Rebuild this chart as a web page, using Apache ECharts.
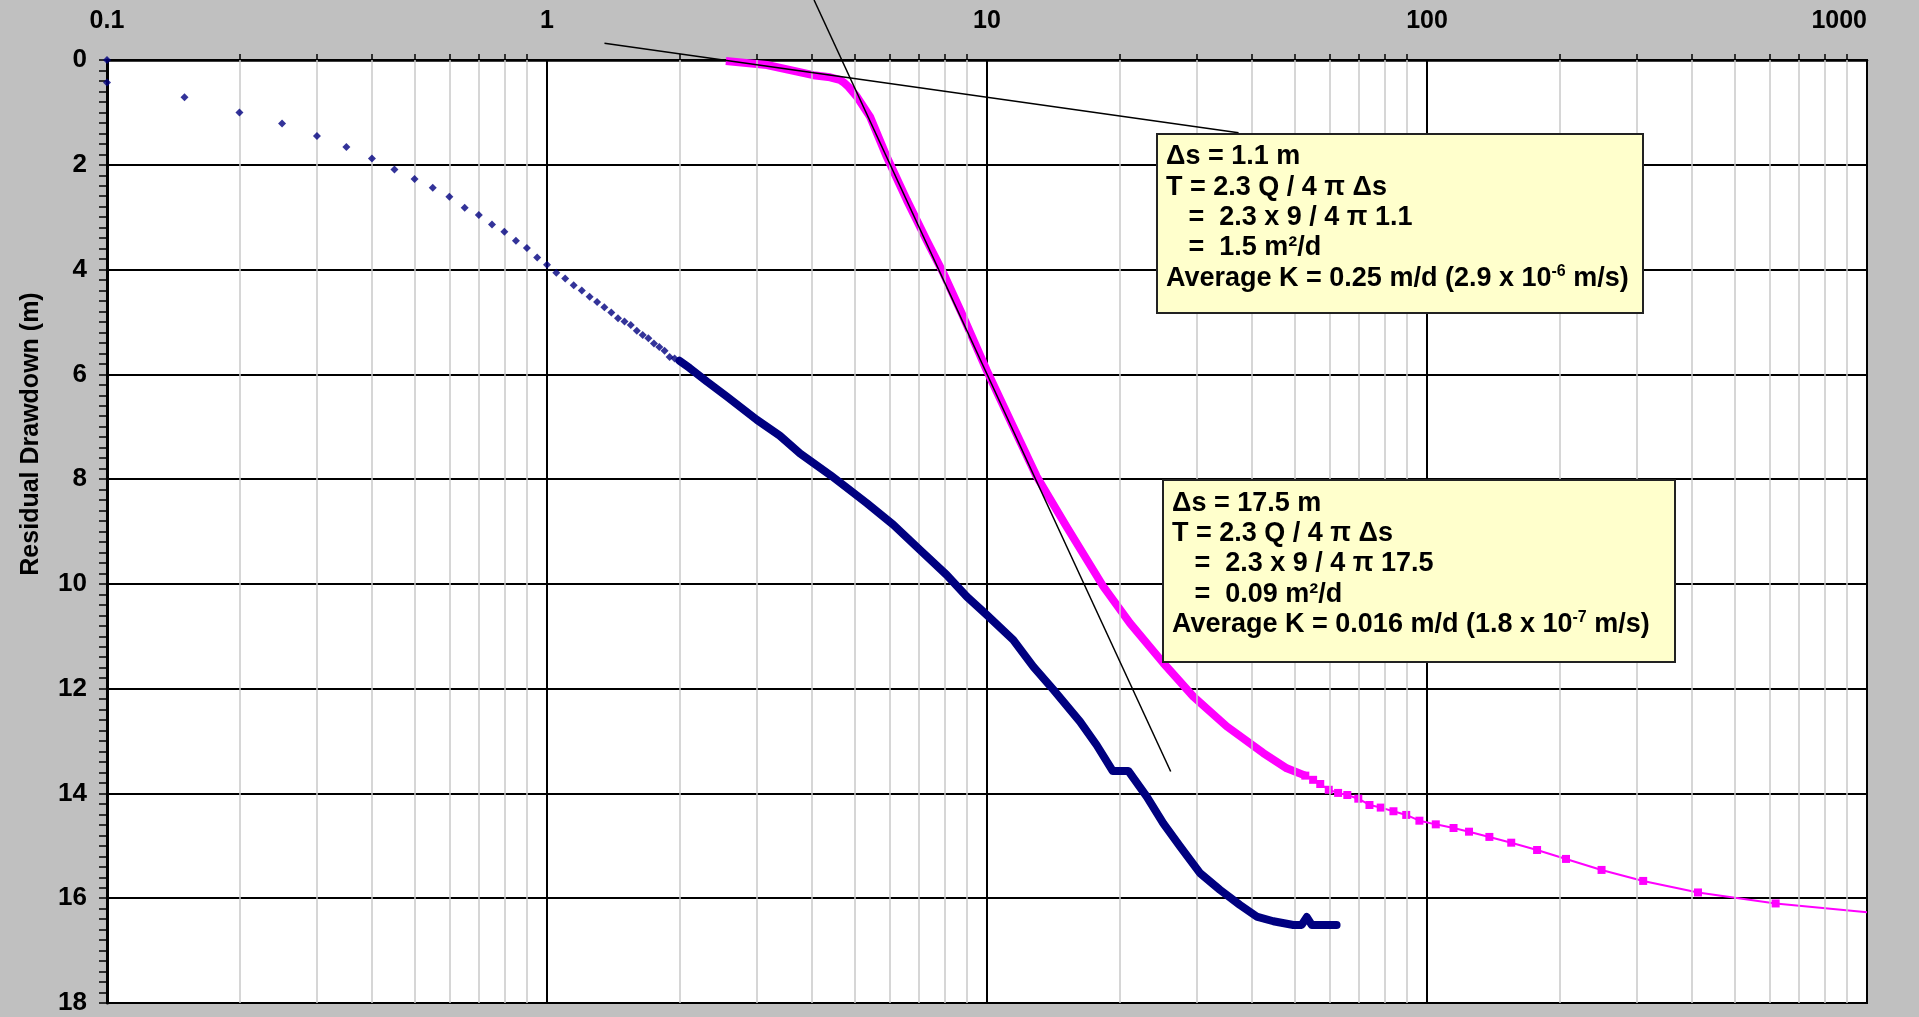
<!DOCTYPE html>
<html><head><meta charset="utf-8">
<script src="https://cdn.jsdelivr.net/npm/echarts@6/dist/echarts.min.js"></script>
<style>html,body{margin:0;padding:0;background:#C0C0C0;}#c{width:1919px;height:1017px;}</style>
</head><body><div id="c"></div>
<script>
// ---- axis values ----
const xTickLabels = ['0.1', '1', '10', '100', '1000'];
const xMinorTicks = [0.2,0.3,0.4,0.5,0.6,0.7,0.8,0.9, 2,3,4,5,6,7,8,9, 20,30,40,50,60,70,80,90, 200,300,400,500,600,700,800,900];
const yTicks = [0, 2, 4, 6, 8, 10, 12, 14, 16, 18];

// ---- blue series: early (sparse, diamonds) ----
const blueSparseT = [0.1,0.1,0.15,0.2,0.25,0.3,0.35,0.4,0.45,0.5,0.55,0.6,0.65,0.7,0.75,0.8,0.85,0.9,0.95,1.0,1.05,1.1,1.15,1.2,1.25,1.3,1.35,1.4,1.45,1.5,1.55,1.6,1.65,1.7,1.75,1.8,1.85,1.9,1.95,2.0];
const blueSparseS = [0,0.43,0.71,1.0,1.21,1.45,1.66,1.88,2.09,2.27,2.44,2.61,2.82,2.96,3.14,3.28,3.45,3.59,3.77,3.91,4.06,4.17,4.30,4.40,4.52,4.62,4.72,4.82,4.93,4.99,5.06,5.17,5.25,5.31,5.41,5.48,5.55,5.67,5.70,5.74];

// ---- blue series: later (dense) ----
const blueDenseT = [2.0,2.11,2.31,2.56,3.0,3.38,3.76,4.40,4.71,5.33,6.12,7.04,8.10,8.99,9.98,11.47,12.74,14.15,16.27,17.76,19.3,20.95,23.07,25.16,27.46,30.49,33.85,37.58,41.0,44.75,49.7,51.9,53.3,54.7,62.3];
const blueDenseS = [5.74,5.88,6.14,6.42,6.87,7.17,7.51,7.92,8.11,8.46,8.87,9.35,9.83,10.24,10.59,11.07,11.58,12.02,12.63,13.08,13.57,13.57,14.06,14.57,15.01,15.52,15.84,16.13,16.35,16.44,16.51,16.51,16.36,16.51,16.51];

// ---- magenta series: dense part ----
const magDenseT = [2.55,3.16,4.03,4.40,4.63,4.73,4.84,5.06,5.42,5.92,6.57,7.29,7.96,8.83,9.98,11.47,12.97,15.17,18.38,21.13,25.16,29.43,35.06,42.46,48.0,52.9];
const magDenseS = [0.02,0.095,0.29,0.33,0.38,0.43,0.51,0.70,1.08,1.85,2.67,3.44,4.07,4.90,5.92,7.0,7.95,8.91,10.05,10.75,11.51,12.15,12.72,13.23,13.52,13.66];

// ---- magenta series: late (sparse squares) ----
const magSparseT = [52.9,55.1,57.2,59.8,62.8,65.9,69.8,74.0,78.5,83.9,89.7,96.1,104.7,114.9,124.6,138.6,155.4,177.9,207,249.3,310,413,620,1000];
const magSparseS = [13.66,13.74,13.82,13.93,13.99,14.03,14.10,14.22,14.27,14.34,14.41,14.52,14.59,14.66,14.73,14.83,14.94,15.08,15.25,15.46,15.67,15.89,16.10,16.27];

// ---- straight-line fits ----
const fit1T = [1.351, 37.3];
const fit1S = [-0.32, 1.39];
const fit2T = [4.045, 26.15];
const fit2S = [-1.145, 13.58];

const zip = (a, b) => a.map((v, i) => [v, b[i]]);
const FONT = '"Liberation Sans", Arial, sans-serif';

const magSparseData = zip(magSparseT, magSparseS).map((p, i, arr) =>
  i === arr.length - 1 ? { value: p, symbol: 'none' } : p);

const chart = echarts.init(document.getElementById('c'), null, { renderer: 'canvas' });

const box1Text = [
  'Δs = 1.1 m',
  'T = 2.3 Q / 4 π Δs',
  '   =  2.3 x 9 / 4 π 1.1',
  '   =  1.5 m²/d',
  'Average K = 0.25 m/d (2.9 x 10{sup|-6} m/s)'
].join('\n');
const box2Text = [
  'Δs = 17.5 m',
  'T = 2.3 Q / 4 π Δs',
  '   =  2.3 x 9 / 4 π 17.5',
  '   =  0.09 m²/d',
  'Average K = 0.016 m/d (1.8 x 10{sup|-7} m/s)'
].join('\n');

const boxTextStyle = (x, y, text) => ({
  type: 'text', left: x, top: y, z: 101,
  style: {
    text: text, fill: '#000', fontSize: 27, fontWeight: 'bold', fontFamily: FONT,
    lineHeight: 30.4,
    rich: { sup: { fontSize: 16, fontWeight: 'bold', fontFamily: FONT, verticalAlign: 'top', lineHeight: 22 } }
  }
});

chart.setOption({
  animation: false,
  backgroundColor: '#C0C0C0',
  grid: { left: 107, right: 52, top: 60, bottom: 14, show: true, backgroundColor: '#FFFFFF', borderColor: '#000', borderWidth: 2 },
  xAxis: [{
    type: 'log', logBase: 10, min: 0.1, max: 1000, position: 'top',
    axisLine: { show: true, lineStyle: { color: '#000', width: 2.5 } },
    axisTick: { show: false },
    axisLabel: {
      show: true, margin: 26, color: '#000', fontSize: 25, fontWeight: 'bold', fontFamily: FONT,
      alignMaxLabel: 'right',
      formatter: v => { const i = Math.round(Math.log10(v)) + 1; return xTickLabels[i] !== undefined ? xTickLabels[i] : ''; }
    },
    splitLine: { show: true, lineStyle: { color: '#000', width: 2 } }
  }, {
    type: 'log', logBase: 10, min: 0.1, max: 1000, position: 'top',
    axisLine: { show: false },
    axisLabel: { show: false },
    axisTick: { show: true, length: 6, customValues: xMinorTicks, lineStyle: { color: '#000', width: 1.5 } },
    splitLine: { show: false }
  }],
  yAxis: {
    type: 'value', inverse: true, min: yTicks[0], max: yTicks[yTicks.length - 1], interval: 2,
    axisLine: { show: true, lineStyle: { color: '#000', width: 3 } },
    axisTick: { show: true, length: 8, lineStyle: { color: '#000', width: 1.5 } },
    minorTick: { show: true, splitNumber: 10, length: 8, lineStyle: { color: '#000', width: 1.5 } },
    axisLabel: { margin: 20, color: '#000', fontSize: 26, fontWeight: 'bold', fontFamily: FONT },
    splitLine: { show: true, lineStyle: { color: '#000', width: 2 } }
  },
  series: [
    {
      type: 'line', data: [], z: 1, silent: true,
      markLine: {
        silent: true, symbol: ['none', 'none'], label: { show: false },
        lineStyle: { color: '#C8C8C8', width: 1.5, type: 'solid' },
        emphasis: { disabled: true },
        data: xMinorTicks.map(v => ({ xAxis: v }))
      }
    },
    {
      name: 'blue early', type: 'scatter', z: 5, symbol: 'diamond', symbolSize: 8,
      itemStyle: { color: '#000080' }, data: zip(blueSparseT, blueSparseS)
    },
    {
      name: 'blue late', type: 'line', z: 5, showSymbol: false, symbol: 'none',
      lineStyle: { color: '#000080', width: 8, cap: 'round', join: 'round' },
      data: zip(blueDenseT, blueDenseS)
    },
    {
      name: 'magenta dense', type: 'line', z: 4, showSymbol: false, symbol: 'none',
      lineStyle: { color: '#FF00FF', width: 8, cap: 'butt', join: 'round' },
      data: zip(magDenseT, magDenseS)
    },
    {
      name: 'magenta late', type: 'line', z: 4, symbol: 'rect', symbolSize: 8, showAllSymbol: true,
      itemStyle: { color: '#FF00FF' }, lineStyle: { color: '#FF00FF', width: 2 },
      data: magSparseData
    },
    {
      name: 'fit1', type: 'line', z: 6, clip: false, symbol: 'none',
      lineStyle: { color: '#000', width: 1.5 }, data: zip(fit1T, fit1S)
    },
    {
      name: 'fit2', type: 'line', z: 6, clip: false, symbol: 'none',
      lineStyle: { color: '#000', width: 1.5 }, data: zip(fit2T, fit2S)
    }
  ],
  graphic: [
    { type: 'rect', z: 100, shape: { x: 1157, y: 134, width: 486, height: 179 },
      style: { fill: '#FFFFCC', stroke: '#222', lineWidth: 2 } },
    boxTextStyle(1166, 141.5, box1Text),
    { type: 'rect', z: 100, shape: { x: 1163, y: 480, width: 512, height: 182 },
      style: { fill: '#FFFFCC', stroke: '#222', lineWidth: 2 } },
    boxTextStyle(1172, 488, box2Text),
    { type: 'text', z: 100, x: 31, y: 434, rotation: Math.PI / 2,
      style: { text: 'Residual Drawdown (m)', fill: '#000', fontSize: 25, fontWeight: 'bold', fontFamily: FONT,
               align: 'center', verticalAlign: 'middle' } }
  ]
});
</script></body></html>
